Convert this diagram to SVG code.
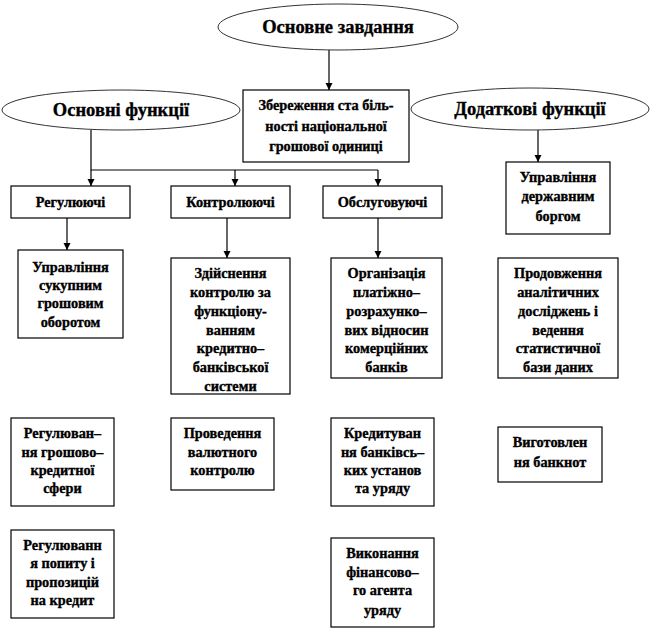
<svg xmlns="http://www.w3.org/2000/svg" width="654" height="630" viewBox="0 0 654 630">
<defs>
<style>
.bg{fill:#ffffff}
.ell{fill:#ffffff;stroke:#333333;stroke-width:1}
.box{fill:#ffffff;stroke:#000000;stroke-width:1.2}
.ln{fill:none;stroke:#000000;stroke-width:1.2}
.t{font-family:"Liberation Serif","Times New Roman",serif;font-weight:bold;fill:#000000;stroke:#000000;stroke-width:0.35;text-anchor:middle}
.big{font-size:18.5px}
.sm{font-size:14.3px}
</style>
<marker id="arr" markerUnits="userSpaceOnUse" markerWidth="8" markerHeight="8" refX="7" refY="3.5" orient="auto">
<path d="M0,0 L7,3.5 L0,7 z" fill="#000000"/>
</marker>
</defs>
<rect class="bg" x="0" y="0" width="654" height="630"/>

<g id="connectors">
<line class="ln" x1="329" y1="50" x2="329" y2="90" marker-end="url(#arr)"/>
<polyline class="ln" points="91,130 91,170 378,170"/>
<line class="ln" x1="91" y1="170" x2="91" y2="186" marker-end="url(#arr)"/>
<line class="ln" x1="235" y1="170" x2="235" y2="186" marker-end="url(#arr)"/>
<line class="ln" x1="378" y1="170" x2="378" y2="186" marker-end="url(#arr)"/>
<line class="ln" x1="67" y1="218" x2="67" y2="250" marker-end="url(#arr)"/>
<line class="ln" x1="227" y1="218" x2="227" y2="258" marker-end="url(#arr)"/>
<line class="ln" x1="378" y1="218" x2="378" y2="258" marker-end="url(#arr)"/>
<line class="ln" x1="538" y1="130" x2="538" y2="162" marker-end="url(#arr)"/>
</g>

<g id="main-task">
<ellipse class="ell" cx="338" cy="27" rx="120" ry="23"/>
<text class="t big" x="338" y="33">Основне завдання</text>
</g>

<g id="basic-functions">
<ellipse class="ell" cx="121" cy="110" rx="119" ry="20"/>
<text class="t big" x="121" y="116">Основні функції</text>
</g>

<g id="stability">
<rect class="box" x="243" y="90" width="166" height="72"/>
<text class="t sm" x="326" y="110">Збереження ста біль-</text>
<text class="t sm" x="326" y="131">ності національної</text>
<text class="t sm" x="326" y="151">грошової  одиниці</text>
</g>

<g id="extra-functions">
<ellipse class="ell" cx="530" cy="109" rx="119" ry="21"/>
<text class="t big" x="530" y="115">Додаткові функції</text>
</g>

<g id="regulating">
<rect class="box" x="11" y="186" width="119" height="32"/>
<text class="t sm" x="70.5" y="207">Регулюючі</text>
</g>

<g id="controlling">
<rect class="box" x="171" y="186" width="119" height="32"/>
<text class="t sm" x="230.5" y="207">Контролюючі</text>
</g>

<g id="serving">
<rect class="box" x="323" y="186" width="119" height="32"/>
<text class="t sm" x="382.5" y="207">Обслуговуючі</text>
</g>

<g id="debt">
<rect class="box" x="506" y="162" width="104" height="72"/>
<text class="t sm" x="558" y="182">Управління</text>
<text class="t sm" x="558" y="201">державним</text>
<text class="t sm" x="558" y="221">боргом</text>
</g>

<g id="money-turnover">
<rect class="box" x="18" y="250" width="105" height="88"/>
<text class="t sm" x="70.5" y="272">Управління</text>
<text class="t sm" x="70.5" y="290">сукупним</text>
<text class="t sm" x="70.5" y="308">грошовим</text>
<text class="t sm" x="70.5" y="327">оборотом</text>
</g>

<g id="control-system">
<rect class="box" x="171" y="258" width="119" height="136"/>
<text class="t sm" x="230.5" y="278">Здійснення</text>
<text class="t sm" x="230.5" y="297">контролю за</text>
<text class="t sm" x="230.5" y="316">функціону-</text>
<text class="t sm" x="230.5" y="335">ванням</text>
<text class="t sm" x="230.5" y="353">кредитно–</text>
<text class="t sm" x="230.5" y="372">банківської</text>
<text class="t sm" x="230.5" y="391">системи</text>
</g>

<g id="payments">
<rect class="box" x="331" y="258" width="111" height="120"/>
<text class="t sm" x="386.5" y="278">Організація</text>
<text class="t sm" x="386.5" y="297">платіжно–</text>
<text class="t sm" x="386.5" y="316">розрахунко–</text>
<text class="t sm" x="386.5" y="335">вих відносин</text>
<text class="t sm" x="386.5" y="353">комерційних</text>
<text class="t sm" x="386.5" y="372">банків</text>
</g>

<g id="research">
<rect class="box" x="498" y="258" width="120" height="120"/>
<text class="t sm" x="558" y="278">Продовження</text>
<text class="t sm" x="558" y="297">аналітичних</text>
<text class="t sm" x="558" y="316">досліджень і</text>
<text class="t sm" x="558" y="335">ведення</text>
<text class="t sm" x="558" y="353">статистичної</text>
<text class="t sm" x="558" y="372">бази даних</text>
</g>

<g id="monetary-sphere">
<rect class="box" x="11" y="418" width="103" height="88"/>
<text class="t sm" x="62.5" y="438">Регулюван–</text>
<text class="t sm" x="62.5" y="457">ня грошово–</text>
<text class="t sm" x="62.5" y="475">кредитної</text>
<text class="t sm" x="62.5" y="493">сфери</text>
</g>

<g id="currency-control">
<rect class="box" x="171" y="418" width="103" height="72"/>
<text class="t sm" x="222.5" y="438">Проведення</text>
<text class="t sm" x="222.5" y="457">валютного</text>
<text class="t sm" x="222.5" y="475">контролю</text>
</g>

<g id="crediting">
<rect class="box" x="331" y="418" width="103" height="88"/>
<text class="t sm" x="382.5" y="438">Кредитуван</text>
<text class="t sm" x="382.5" y="457">ня банківсь–</text>
<text class="t sm" x="382.5" y="475">ких установ</text>
<text class="t sm" x="382.5" y="493">та уряду</text>
</g>

<g id="banknotes">
<rect class="box" x="498" y="427" width="104" height="55"/>
<text class="t sm" x="550" y="447">Виготовлен</text>
<text class="t sm" x="550" y="467">ня банкнот</text>
</g>

<g id="credit-demand">
<rect class="box" x="11" y="530" width="103" height="88"/>
<text class="t sm" x="62.5" y="550">Регулюванн</text>
<text class="t sm" x="62.5" y="568">я попиту і</text>
<text class="t sm" x="62.5" y="587">пропозицій</text>
<text class="t sm" x="62.5" y="605">на кредит</text>
</g>

<g id="fiscal-agent">
<rect class="box" x="331" y="538" width="103" height="89"/>
<text class="t sm" x="382.5" y="558">Виконання</text>
<text class="t sm" x="382.5" y="577">фінансово–</text>
<text class="t sm" x="382.5" y="595">го агента</text>
<text class="t sm" x="382.5" y="615">уряду</text>
</g>
</svg>
